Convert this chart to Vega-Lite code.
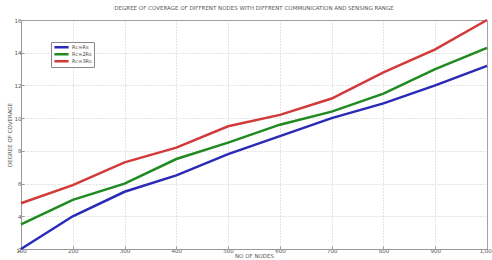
{
  "$schema": "https://vega.github.io/schema/vega-lite/v6.json",
  "width": 466,
  "height": 229,
  "autosize": {"type": "none"},
  "padding": {"left": 21, "top": 20, "right": 5, "bottom": 11},
  "background": "white",
  "title": {
    "text": "DEGREE OF COVERAGE OF DIFFRENT NODES WITH DIFFRENT COMMUNICATION AND SENSING RANGE",
    "fontSize": 5.5,
    "font": "DejaVu Sans",
    "fontWeight": "normal",
    "color": "#555555",
    "offset": 4
  },
  "config": {
    "view": {"stroke": "#999999", "strokeWidth": 1},
    "axis": {
      "labelFont": "DejaVu Sans",
      "labelFontSize": 5.5,
      "labelColor": "#555555",
      "titleFont": "DejaVu Sans",
      "titleFontSize": 5.5,
      "titleFontWeight": "normal",
      "titleColor": "#555555",
      "domainColor": "#999999",
      "tickColor": "#999999",
      "tickSize": -3,
      "gridColor": "#bbbbbb",
      "gridDash": [1, 2],
      "gridWidth": 0.8
    }
  },
  "data": {
    "values": [
      {"nodes": 100, "v": 2.0, "s": "Rc=Rs"},
      {"nodes": 200, "v": 4.0, "s": "Rc=Rs"},
      {"nodes": 300, "v": 5.5, "s": "Rc=Rs"},
      {"nodes": 400, "v": 6.5, "s": "Rc=Rs"},
      {"nodes": 500, "v": 7.8, "s": "Rc=Rs"},
      {"nodes": 600, "v": 8.9, "s": "Rc=Rs"},
      {"nodes": 700, "v": 10.0, "s": "Rc=Rs"},
      {"nodes": 800, "v": 10.9, "s": "Rc=Rs"},
      {"nodes": 900, "v": 12.0, "s": "Rc=Rs"},
      {"nodes": 1000, "v": 13.2, "s": "Rc=Rs"},
      {"nodes": 100, "v": 3.5, "s": "Rc=2Rs"},
      {"nodes": 200, "v": 5.0, "s": "Rc=2Rs"},
      {"nodes": 300, "v": 6.0, "s": "Rc=2Rs"},
      {"nodes": 400, "v": 7.5, "s": "Rc=2Rs"},
      {"nodes": 500, "v": 8.5, "s": "Rc=2Rs"},
      {"nodes": 600, "v": 9.6, "s": "Rc=2Rs"},
      {"nodes": 700, "v": 10.4, "s": "Rc=2Rs"},
      {"nodes": 800, "v": 11.5, "s": "Rc=2Rs"},
      {"nodes": 900, "v": 13.0, "s": "Rc=2Rs"},
      {"nodes": 1000, "v": 14.3, "s": "Rc=2Rs"},
      {"nodes": 100, "v": 4.8, "s": "Rc=3Rs"},
      {"nodes": 200, "v": 5.9, "s": "Rc=3Rs"},
      {"nodes": 300, "v": 7.3, "s": "Rc=3Rs"},
      {"nodes": 400, "v": 8.2, "s": "Rc=3Rs"},
      {"nodes": 500, "v": 9.5, "s": "Rc=3Rs"},
      {"nodes": 600, "v": 10.2, "s": "Rc=3Rs"},
      {"nodes": 700, "v": 11.2, "s": "Rc=3Rs"},
      {"nodes": 800, "v": 12.8, "s": "Rc=3Rs"},
      {"nodes": 900, "v": 14.2, "s": "Rc=3Rs"},
      {"nodes": 1000, "v": 16.0, "s": "Rc=3Rs"}
    ]
  },
  "mark": {"type": "line", "strokeWidth": 2.5},
  "encoding": {
    "x": {
      "field": "nodes",
      "type": "quantitative",
      "scale": {"domain": [100, 1000], "nice": false},
      "axis": {"values": [100, 200, 300, 400, 500, 600, 700, 800, 900, 1000], "title": "NO OF NODES", "titlePadding": 0, "labelPadding": 2, "labelFlush": false}
    },
    "y": {
      "field": "v",
      "type": "quantitative",
      "scale": {"domain": [2, 16], "nice": false},
      "axis": {"values": [2, 4, 6, 8, 10, 12, 14, 16], "title": "DEGREE OF COVERAGE", "titlePadding": 2, "labelPadding": 3}
    },
    "color": {
      "field": "s",
      "type": "nominal",
      "sort": ["Rc=Rs", "Rc=2Rs", "Rc=3Rs"],
      "scale": {"domain": ["Rc=Rs", "Rc=2Rs", "Rc=3Rs"], "range": ["#2a2ab8", "#1f8a1f", "#d23a3a"]},
      "legend": {
        "title": null,
        "orient": "none",
        "legendX": 30,
        "legendY": 22,
        "symbolType": "stroke",
        "symbolStrokeWidth": 2.5,
        "symbolSize": 200,
        "clipHeight": 6.5,
        "labelFontSize": 5,
        "labelFont": "DejaVu Sans",
        "labelColor": "#444444",
        "rowPadding": 0,
        "padding": 2,
        "strokeColor": "#888888",
        "fillColor": "white",
        "labelOffset": 2
      }
    }
  }
}
